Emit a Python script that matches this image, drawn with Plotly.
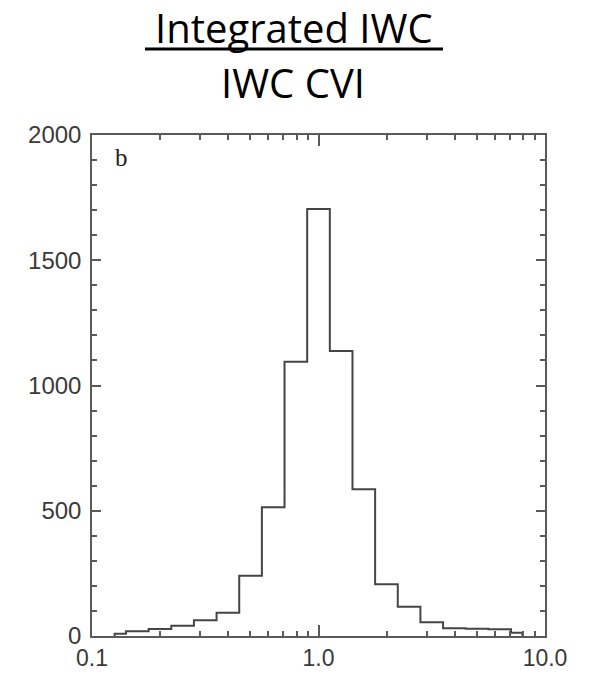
import plotly.graph_objects as go

# ---- data ----
log_bin_centers = [-0.9, -0.8, -0.7, -0.6, -0.5, -0.4, -0.3, -0.2, -0.1, 0.0,
                   0.1, 0.2, 0.3, 0.4, 0.5, 0.6, 0.7, 0.8, 0.9]
counts = [9, 19, 28, 41, 63, 93, 241, 514, 1095, 1705,
          1138, 586, 207, 117, 55, 31, 29, 27, 13]
bin_width_log = 0.1
x_range_log = [-0.9, 0.9]

x_tickvals = [0.1, 1.0, 10.0]
x_ticktext = ["0.1", "1.0", "10.0"]
x_minor = [0.2, 0.3, 0.4, 0.5, 0.6, 0.7, 0.8, 0.9, 2, 3, 4, 5, 6, 7, 8, 9]
y_tickvals = [0, 500, 1000, 1500, 2000]

title1 = "Integrated IWC"
title2 = "IWC CVI"
panel_label = "b"

# ---- build step outline from the bins ----
xs, ys = [], []
for i, (c, n) in enumerate(zip(log_bin_centers, counts)):
    lo = max(c - bin_width_log / 2, x_range_log[0])
    hi = min(c + bin_width_log / 2, x_range_log[1])
    if i == 0:
        xs.append(10 ** lo); ys.append(0)
    xs += [10 ** lo, 10 ** hi]
    ys += [n, n]
xs.append(10 ** hi); ys.append(0)

LINE = "#454545"
AX = "#5a5a5a"
TXT = "#3a3a3a"

fig = go.Figure()
fig.add_trace(go.Scatter(x=xs, y=ys, mode="lines",
                         line=dict(color=LINE, width=2), hoverinfo="skip",
                         showlegend=False))

fig.update_layout(
    width=591, height=675,
    margin=dict(l=92, r=46, t=135, b=39),
    paper_bgcolor="white", plot_bgcolor="white",
    font=dict(family="Liberation Sans, Arial, sans-serif", color=TXT, size=24),
    showlegend=False,
)

fig.update_xaxes(
    type="log", range=[-1, 1], automargin=False,
    tickvals=x_tickvals, ticktext=x_ticktext,
    ticks="inside", ticklen=11, tickwidth=1.5, tickcolor=AX,
    minor=dict(tickvals=x_minor, ticks="inside", ticklen=5, tickwidth=1.5, tickcolor=AX),
    showline=True, linecolor=AX, linewidth=1.5, mirror="ticks",
    showgrid=False, zeroline=False,
    ticklabelstandoff=1,
    tickfont=dict(size=23, color=TXT),
)
fig.update_yaxes(
    range=[0, 2000], automargin=False,
    tickvals=y_tickvals,
    ticks="inside", ticklen=9, tickwidth=1.5, tickcolor=AX,
    minor=dict(dtick=100, ticks="inside", ticklen=5, tickwidth=1.5, tickcolor=AX),
    showline=True, linecolor=AX, linewidth=1.5, mirror="ticks",
    showgrid=False, zeroline=False,
    ticklabelstandoff=4,
    tickfont=dict(size=24, color=TXT),
)

fig.add_annotation(text=title1, xref="paper", yref="paper", x=(294 - 92) / 453,
                   y=(636 - 28) / 501, xanchor="center", yanchor="middle",
                   showarrow=False, font=dict(family="Open Sans", size=40, color="black"))
fig.add_shape(type="line", xref="paper", yref="paper",
              x0=(145 - 92) / 453, x1=(443 - 92) / 453,
              y0=(636 - 49) / 501, y1=(636 - 49) / 501,
              line=dict(color="black", width=3))
fig.add_annotation(text=title2, xref="paper", yref="paper", x=(293 - 92) / 453,
                   y=(636 - 83) / 501, xanchor="center", yanchor="middle",
                   showarrow=False, font=dict(family="Open Sans", size=40, color="black"))
fig.add_annotation(text=panel_label, xref="paper", yref="paper", x=(121 - 92) / 453,
                   y=(636 - 157) / 501, xanchor="center", yanchor="middle",
                   showarrow=False, font=dict(family="Liberation Serif", size=25, color="#222"))

fig.write_html("out.html")
